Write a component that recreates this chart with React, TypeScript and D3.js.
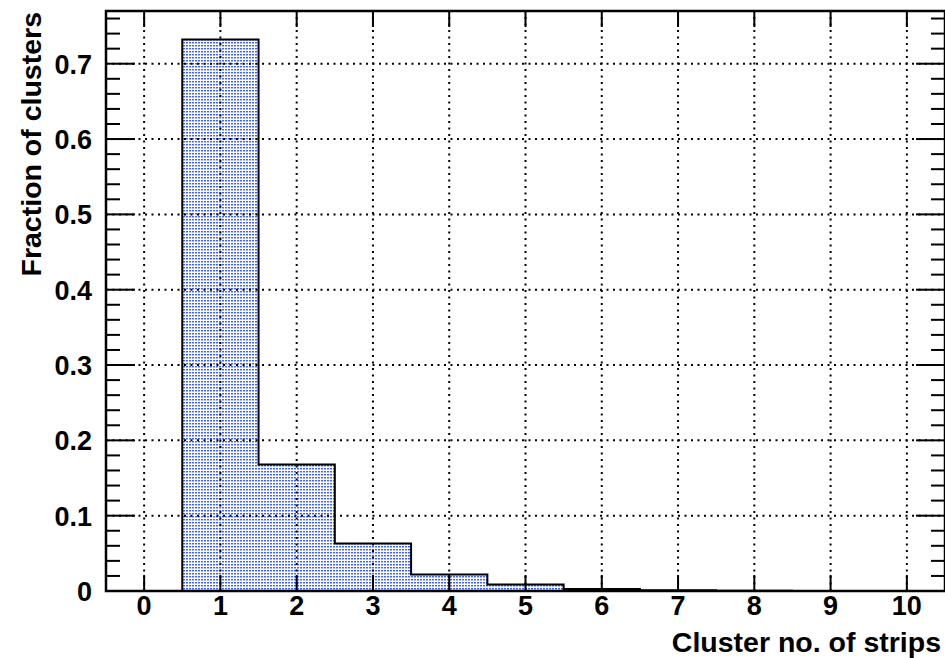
import * as d3 from "d3";

const bins = [0, 1, 2, 3, 4, 5, 6, 7, 8, 9, 10];
const fractions = [0, 0.732, 0.168, 0.063, 0.0218, 0.0085, 0.0027, 0.001, 0.0004, 0.0001, 0];
const xTicks = [0, 1, 2, 3, 4, 5, 6, 7, 8, 9, 10];
const yTicks = [0, 0.1, 0.2, 0.3, 0.4, 0.5, 0.6, 0.7];

const W = 945;
const H = 658;
const font = "'Liberation Sans', Arial, Helvetica, sans-serif";

export default function App() {
  const x = d3.scaleLinear().domain([-0.5, 10.5]).range([106, 945]);
  const y = d3.scaleLinear().domain([0, 0.77]).range([591, 11]);
  const [x0, x1] = x.range();
  const [yb, yt] = y.range();

  // step outline of the histogram
  const pts: [number, number][] = [[x(-0.5), y(0)]];
  bins.forEach((b, i) => {
    pts.push([x(b - 0.5), y(fractions[i])]);
    pts.push([x(b + 0.5), y(fractions[i])]);
  });
  pts.push([x(10.5), y(0)]);
  const line = d3.line();
  const outline = line(pts)!;
  const area = outline + "Z";

  const minorY = d3.range(0, 0.771, 0.02);

  return (
    <svg
      width={W}
      height={H}
      style={{ position: "absolute", left: 0, top: 0, background: "#fff" }}
    >
      <defs>
        <pattern id="dots" width={3} height={3} patternUnits="userSpaceOnUse">
          <rect width={3} height={3} fill="#ffffff" />
          <rect width={2} height={1} fill="#4062ff" />
          <rect y={1} width={2} height={1} fill="#a8b6ff" />
        </pattern>
      </defs>
      <rect x={0} y={0} width={W} height={H} fill="#fff" />

      <path d={area} fill="url(#dots)" />

      {/* grid */}
      <g stroke="#000" strokeWidth={2} strokeDasharray="2 4.5">
        {xTicks.map((t) => (
          <line key={"gx" + t} x1={x(t)} x2={x(t)} y1={yb} y2={yt} />
        ))}
        {yTicks.map((t) => (
          <line key={"gy" + t} x1={x0} x2={x1} y1={y(t)} y2={y(t)} />
        ))}
      </g>

      <path d={outline} fill="none" stroke="#000" strokeWidth={2} />

      {/* frame */}
      <rect
        x={x0}
        y={yt}
        width={x1 - x0}
        height={yb - yt}
        fill="none"
        stroke="#000"
        strokeWidth={2.5}
      />

      {/* ticks */}
      <g stroke="#000" strokeWidth={2}>
        {xTicks.map((t) => (
          <g key={"tx" + t}>
            <line x1={x(t)} x2={x(t)} y1={yb} y2={yb - 16} />
            <line x1={x(t)} x2={x(t)} y1={yt} y2={yt + 16} />
          </g>
        ))}
        {minorY.map((t, i) => {
          const major = i % 5 === 0;
          const len = major ? 29 : 14;
          return (
            <g key={"ty" + i}>
              <line x1={x0} x2={x0 + len} y1={y(t)} y2={y(t)} />
              <line x1={x1} x2={x1 - len} y1={y(t)} y2={y(t)} />
            </g>
          );
        })}
      </g>

      {/* tick labels */}
      <g fontFamily={font} fontWeight="bold" fontSize={27} fill="#000">
        {xTicks.map((t) => (
          <text key={"lx" + t} x={x(t)} y={615} textAnchor="middle">
            {t}
          </text>
        ))}
        {yTicks.map((t) => (
          <text
            key={"ly" + t}
            x={92}
            y={y(t) + 10}
            textAnchor="end"
          >
            {t === 0 ? "0" : t.toFixed(1)}
          </text>
        ))}
      </g>

      {/* axis titles */}
      <text
        x={941}
        y={652}
        textAnchor="end"
        fontFamily={font}
        fontWeight="bold"
        fontSize={28.5}
      >
        Cluster no. of strips
      </text>
      <text
        transform={`translate(41,12) rotate(-90)`}
        textAnchor="end"
        fontFamily={font}
        fontWeight="bold"
        fontSize={28.5}
      >
        Fraction of clusters
      </text>
    </svg>
  );
}
